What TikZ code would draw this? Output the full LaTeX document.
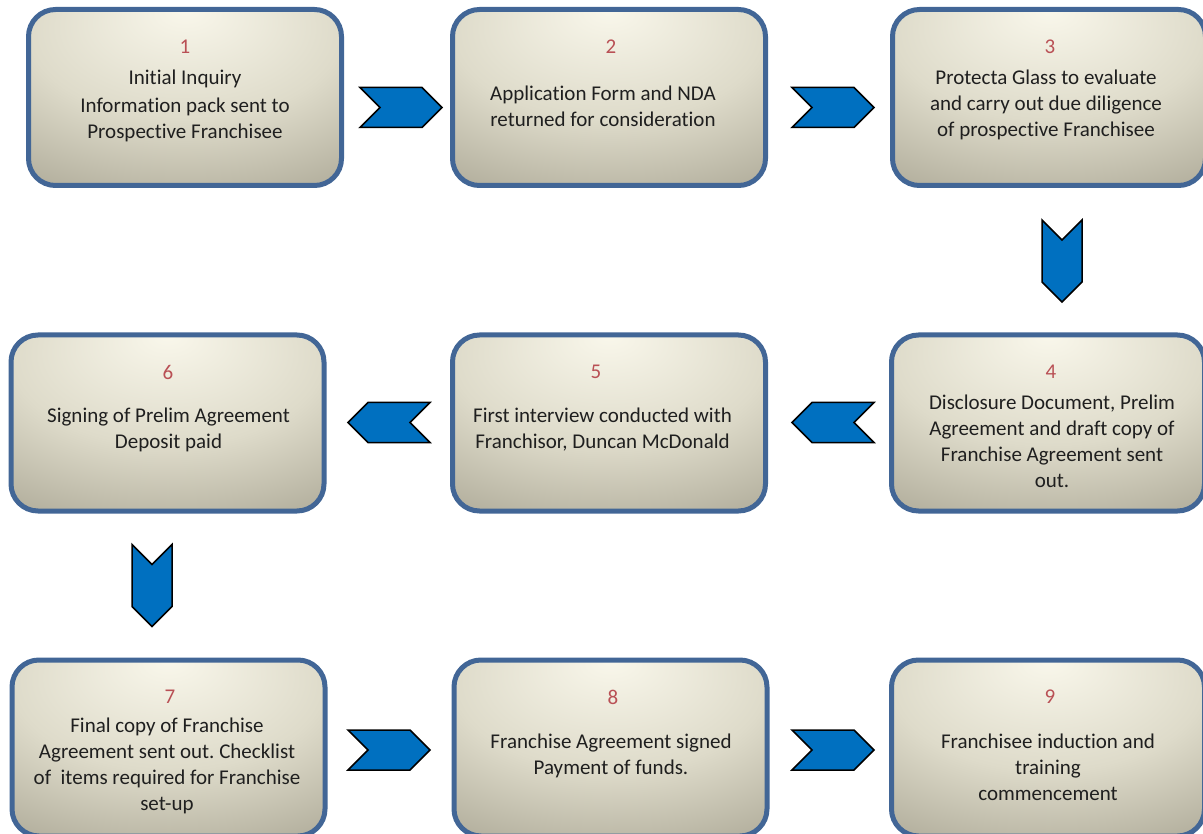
\documentclass[tikz,border=0pt]{standalone}
\usepackage{fontspec}
\setmainfont{Carlito}[Ligatures=CommonOff]
\usetikzlibrary{shapes.symbols, positioning}
\definecolor{stageline}{RGB}{66,102,150}
\definecolor{stlight}{RGB}{249,247,235}
\definecolor{stmid}{RGB}{222,219,202}
\definecolor{stedge}{RGB}{168,164,146}
\definecolor{stdark}{RGB}{122,119,104}
\definecolor{numred}{RGB}{185,80,85}
\definecolor{chevblue}{RGB}{0,112,192}
\pgfdeclareradialshading{stageshade}{\pgfpoint{0bp}{25bp}}{color(0bp)=(stlight); color(25bp)=(stmid); color(50bp)=(stedge); color(80bp)=(stdark); color(100bp)=(stdark)}
\tikzset{>=stealth}
\frenchspacing

\begin{document}
\begin{tikzpicture}[x=1pt, y=-1pt,
  stage/.style={draw=stageline, line width=5pt, rounded corners=27pt, shading=stageshade, minimum width=313pt, minimum height=176pt},
  num/.style={text=numred, inner sep=0pt, font=\fontsize{21}{26}\selectfont},
  txt/.style={align=center, inner sep=0pt, text=black!88, font=\fontsize{21}{26}\selectfont},
  chev/.style={signal, draw=black, line width=1.5pt, fill=chevblue, inner sep=0pt},
  chevr/.style={chev, signal from=west, signal to=east, minimum width=82pt, minimum height=40pt},
  chevl/.style={chev, signal from=east, signal to=west, minimum width=82pt, minimum height=40pt},
  chevd/.style={chev, signal from=north, signal to=south, minimum width=40pt, minimum height=42pt}]
  \useasboundingbox (0,0) rectangle (1203,834);
  \clip (0,0) rectangle (1203,834);

  \node[stage]	(S1)	at	(185,97.5)	{};
  \node[stage]	(S2)	at	(609,97.5)	{};
  \node[stage]	(S3)	at	(1049,97.5)	{};
  \node[stage]	(S4)	at	(1048,423)	{};
  \node[stage]	(S5)	at	(609,423)	{};
  \node[stage]	(S6)	at	(167.5,423)	{};
  \node[stage]	(S7)	at	(168.5,748)	{};
  \node[stage]	(S8)	at	(610.5,748)	{};
  \node[stage]	(S9)	at	(1048,748)	{};

  \node[num]	(N1)	at	(185,47)	{1};
  \node[num]	(N2)	at	(611,47)	{2};
  \node[num]	(N3)	at	(1050,47)	{3};
  \node[num]	(N4)	at	(1051,372)	{4};
  \node[num]	(N5)	at	(596,372)	{5};
  \node[num]	(N6)	at	(168,372)	{6};
  \node[num]	(N7)	at	(170,697)	{7};
  \node[num]	(N8)	at	(613,697)	{8};
  \node[num]	(N9)	at	(1050,697)	{9};

  \node[txt]	(T1)	at	(185,106)	{Initial Inquiry\\[2pt] Information pack sent to\\ Prospective Franchisee};
  \node[txt]	(T2)	at	(603,106)	{Application Form and NDA\\ returned for consideration};
  \node[txt]	(T3)	at	(1046,104.5)	{Protecta Glass to evaluate\\ and carry out due diligence\\ of prospective Franchisee};
  \node[txt]	(T4)	at	(1052,441)	{Disclosure Document, Prelim\\ Agreement and draft copy of\\ Franchise Agreement sent\\ out.};
  \node[txt]	(T5)	at	(602.5,429.5)	{First interview conducted with\\ Franchisor, Duncan McDonald};
  \node[txt]	(T6)	at	(168.5,429.5)	{Signing of Prelim Agreement\\ Deposit paid};
  \node[txt]	(T7)	at	(167,766)	{Final copy of Franchise\\ Agreement sent out. Checklist\\ of\ \ items required for Franchise\\ set-up};
  \node[txt]	(T8)	at	(611,756)	{Franchise Agreement signed\\ Payment of funds.};
  \node[txt]	(T9)	at	(1048,767)	{Franchisee induction and\\ training\\ commencement};

  \node[chevr]	(C12)	at	(401,107.5)	{};
  \node[chevr]	(C23)	at	(833,107.5)	{};
  \node[chevd]	(C34)	at	(1062,261)	{};
  \node[chevl]	(C45)	at	(833,422.5)	{};
  \node[chevl]	(C56)	at	(389,422.5)	{};
  \node[chevd]	(C67)	at	(152,585.5)	{};
  \node[chevr]	(C78)	at	(389,750)	{};
  \node[chevr]	(C89)	at	(833,750)	{};
\end{tikzpicture}
\end{document}
